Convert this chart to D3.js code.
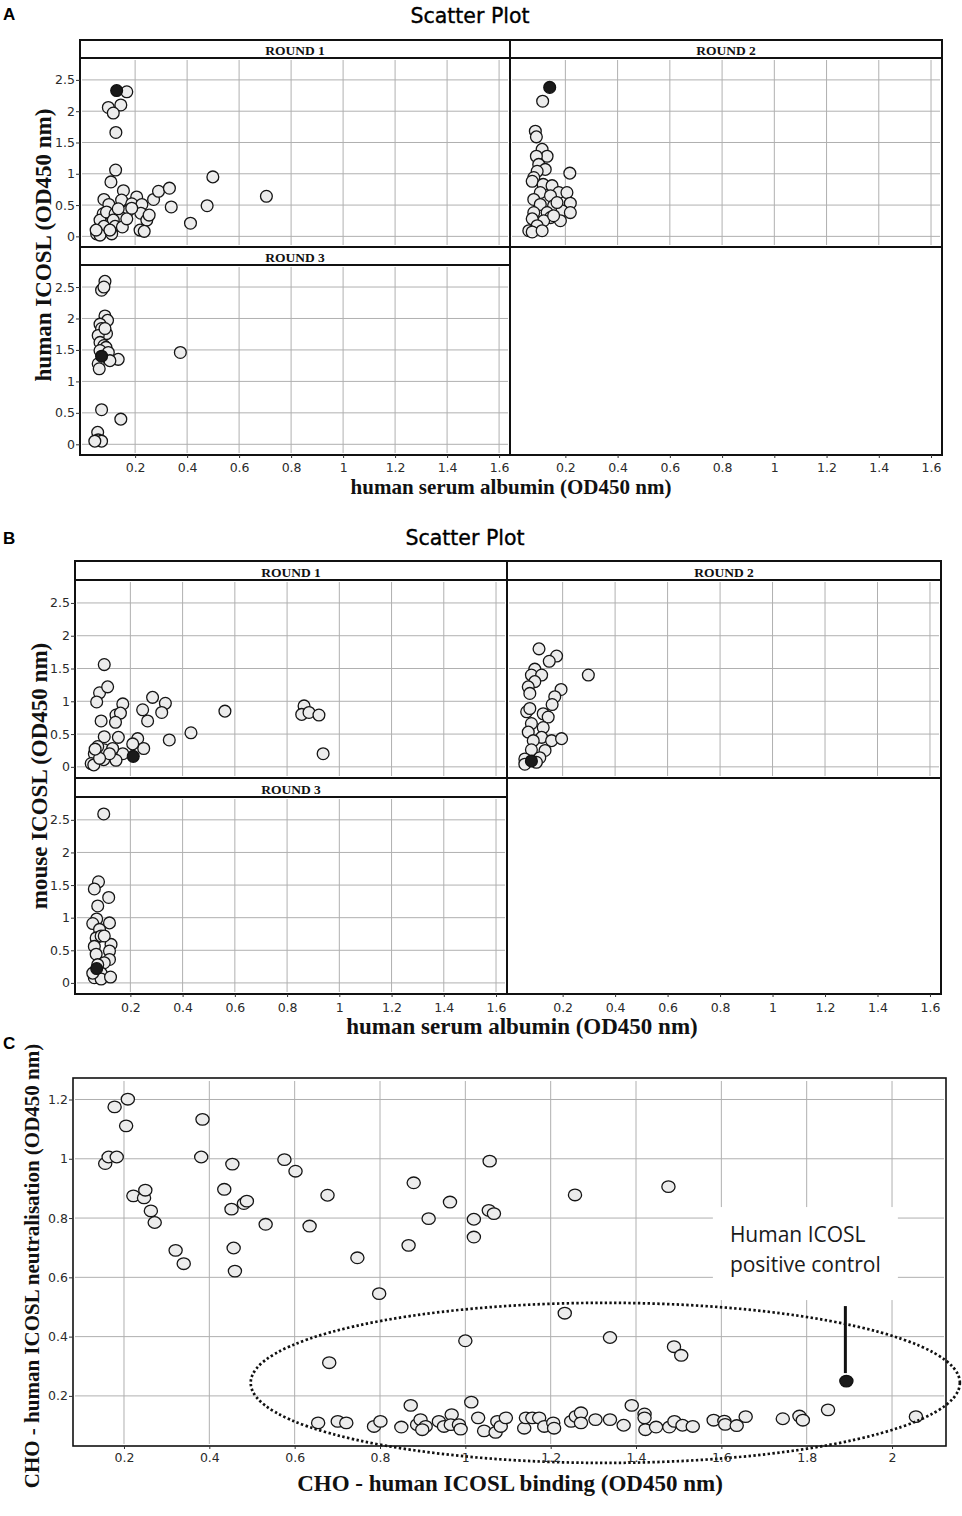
<!DOCTYPE html>
<html><head><meta charset="utf-8">
<script src="https://cdn.jsdelivr.net/npm/d3@7"></script>
<style>body{margin:0;background:#fff}svg{display:block}</style>
</head><body>
<svg id="chart" width="962" height="1516"></svg>
<script>
// ---------------- DATA ----------------
const roundLabels = ["ROUND 1", "ROUND 2", "ROUND 3"];
const xTicksAB = [0.2, 0.4, 0.6, 0.8, 1, 1.2, 1.4, 1.6];
const yTicksAB = [0, 0.5, 1, 1.5, 2, 2.5];
const xTicksC = [0.2, 0.4, 0.6, 0.8, 1, 1.2, 1.4, 1.6, 1.8, 2];
const yTicksC = [0.2, 0.4, 0.6, 0.8, 1, 1.2];

// Panel A: human serum albumin (x) vs human ICOSL (y)
const humanR1 = [[0.168,2.31],[0.097,2.06],[0.145,2.10],[0.116,1.97],[0.126,1.66],[0.125,1.06],[0.107,0.87],[0.155,0.73],[0.206,0.63],[0.148,0.58],[0.08,0.59],[0.099,0.51],[0.187,0.52],[0.226,0.51],[0.271,0.59],[0.29,0.72],[0.332,0.77],[0.339,0.47],[0.499,0.95],[0.477,0.49],[0.413,0.21],[0.705,0.64],[0.174,0.41],[0.222,0.37],[0.245,0.26],[0.254,0.34],[0.219,0.10],[0.235,0.08],[0.077,0.36],[0.065,0.26],[0.09,0.39],[0.123,0.36],[0.142,0.31],[0.116,0.26],[0.08,0.16],[0.123,0.16],[0.151,0.15],[0.052,0.04],[0.065,0.02],[0.11,0.04],[0.168,0.28],[0.187,0.45],[0.103,0.10],[0.05,0.10],[0.135,0.44]];
const humanR2 = [[0.113,2.16],[0.085,1.68],[0.089,1.59],[0.111,1.39],[0.13,1.28],[0.089,1.28],[0.098,1.15],[0.123,1.07],[0.092,1.04],[0.217,1.01],[0.079,0.94],[0.073,0.88],[0.115,0.83],[0.149,0.81],[0.175,0.70],[0.206,0.70],[0.104,0.70],[0.143,0.65],[0.079,0.59],[0.104,0.51],[0.155,0.49],[0.219,0.53],[0.187,0.41],[0.219,0.38],[0.079,0.38],[0.13,0.38],[0.143,0.30],[0.117,0.25],[0.181,0.25],[0.073,0.28],[0.092,0.17],[0.06,0.09],[0.073,0.07],[0.111,0.09],[0.155,0.33],[0.168,0.54]];
const humanR3 = [[0.084,2.59],[0.071,2.45],[0.08,2.50],[0.084,2.04],[0.094,1.97],[0.065,1.91],[0.071,1.84],[0.09,1.76],[0.058,1.73],[0.065,1.62],[0.08,1.57],[0.088,1.54],[0.065,1.49],[0.097,1.46],[0.135,1.35],[0.103,1.33],[0.058,1.28],[0.062,1.20],[0.374,1.46],[0.071,0.55],[0.145,0.40],[0.056,0.19],[0.058,0.07],[0.071,0.05],[0.045,0.05],[0.084,1.84]];
const humanCtrl = [[0.129,2.33],[0.14,2.38],[0.071,1.40]];

// Panel B: human serum albumin (x) vs mouse ICOSL (y)
const mouseR1 = [[0.10,1.56],[0.082,1.13],[0.113,1.22],[0.071,0.99],[0.285,1.06],[0.334,0.97],[0.32,0.83],[0.247,0.87],[0.171,0.96],[0.145,0.79],[0.162,0.82],[0.088,0.70],[0.143,0.68],[0.266,0.70],[0.562,0.85],[0.865,0.93],[0.856,0.80],[0.884,0.83],[0.922,0.79],[0.938,0.20],[0.432,0.52],[0.349,0.41],[0.228,0.43],[0.251,0.28],[0.154,0.45],[0.10,0.46],[0.209,0.35],[0.171,0.20],[0.145,0.10],[0.098,0.11],[0.10,0.26],[0.075,0.31],[0.062,0.20],[0.05,0.05],[0.06,0.03],[0.132,0.28],[0.12,0.20],[0.082,0.13],[0.065,0.27]];
const mouseR2 = [[0.11,1.80],[0.177,1.69],[0.149,1.61],[0.298,1.40],[0.094,1.49],[0.081,1.40],[0.12,1.40],[0.094,1.30],[0.069,1.22],[0.075,1.12],[0.194,1.18],[0.17,1.07],[0.16,0.95],[0.063,0.84],[0.075,0.89],[0.126,0.81],[0.145,0.76],[0.081,0.66],[0.126,0.60],[0.069,0.53],[0.12,0.45],[0.158,0.40],[0.196,0.43],[0.088,0.40],[0.133,0.25],[0.081,0.26],[0.113,0.14],[0.056,0.12],[0.056,0.04],[0.10,0.07]];
const mouseR3 = [[0.098,2.59],[0.078,1.55],[0.062,1.44],[0.117,1.31],[0.075,1.18],[0.071,0.98],[0.056,0.91],[0.12,0.92],[0.082,0.82],[0.069,0.69],[0.088,0.72],[0.126,0.59],[0.062,0.56],[0.12,0.49],[0.069,0.44],[0.12,0.36],[0.10,0.31],[0.075,0.28],[0.088,0.15],[0.062,0.08],[0.088,0.06],[0.124,0.09],[0.056,0.15],[0.10,0.72]];
const mouseCtrl = [[0.211,0.16],[0.081,0.09],[0.071,0.22]];

// Panel C: CHO binding (x) vs CHO neutralisation (y)
const choPoints = [[0.156,0.984],[0.164,1.006],[0.183,1.006],[0.178,1.175],[0.209,1.201],[0.205,1.111],[0.222,0.875],[0.247,0.868],[0.25,0.894],[0.263,0.824],[0.272,0.785],[0.321,0.691],[0.34,0.646],[0.384,1.133],[0.381,1.006],[0.454,0.982],[0.435,0.897],[0.452,0.83],[0.481,0.849],[0.488,0.857],[0.457,0.699],[0.46,0.621],[0.532,0.779],[0.576,0.997],[0.602,0.958],[0.635,0.773],[0.677,0.877],[0.747,0.666],[0.798,0.545],[0.867,0.708],[0.879,0.919],[0.914,0.798],[0.964,0.854],[1.02,0.796],[1.02,0.736],[1.057,0.992],[1.055,0.826],[1.067,0.815],[1.257,0.878],[1.476,0.906],[1.233,0.479],[0.681,0.312],[1.0,0.386],[1.339,0.397],[1.489,0.366],[1.506,0.337],[0.872,0.168],[1.014,0.179],[1.39,0.168],
[0.655,0.109],[0.701,0.114],[0.721,0.109],[0.786,0.097],[0.801,0.114],[0.85,0.095],[0.887,0.103],[0.895,0.12],[0.907,0.097],[0.899,0.086],[0.938,0.114],[0.95,0.097],[0.968,0.137],[0.966,0.103],[0.985,0.103],[0.989,0.088],[1.03,0.126],[1.044,0.082],[1.071,0.077],[1.075,0.114],[1.083,0.097],[1.095,0.126],[1.138,0.091],[1.142,0.126],[1.157,0.126],[1.173,0.126],[1.185,0.097],[1.206,0.109],[1.208,0.091],[1.248,0.114],[1.259,0.131],[1.271,0.143],[1.271,0.109],[1.305,0.12],[1.339,0.12],[1.371,0.101],[1.42,0.139],[1.42,0.126],[1.422,0.086],[1.447,0.095],[1.478,0.095],[1.49,0.114],[1.509,0.101],[1.533,0.097],[1.582,0.118],[1.607,0.115],[1.609,0.104],[1.636,0.1],[1.657,0.13],[1.744,0.123],[1.783,0.132],[1.791,0.118],[1.85,0.153],[2.056,0.13]];
const choCtrl = [[1.893,0.250]];
const choEllipse = {cx: 1.328, cy: 0.244, rx: 0.831, ry: 0.27};   // dotted region, data units
const annotLines = ["Human ICOSL", "positive control"];

// ---------------- DRAWING ----------------
const svg = d3.select("#chart");
const serif = "'Liberation Serif','Times New Roman',serif";
const sans = "'DejaVu Sans',Verdana,sans-serif";
const xDomAB = [-0.012, 1.642];
const yDomAB = [-0.17, 2.85];
const fmt = d => String(d);

function styleAxis(g) {
  g.select(".domain").remove();
  g.selectAll(".tick line").attr("stroke", "#333").attr("stroke-width", 1);
  g.selectAll(".tick text").attr("fill", "#2a2a2a").style("font-family", sans).style("font-size", "12.5px");
}

function facetPanel(cfg) {
  const g = svg.append("g");
  const cols = [[cfg.left, cfg.midX], [cfg.midX, cfg.right]];
  const rows = [[cfg.top, cfg.rowY], [cfg.rowY, cfg.bottom]];
  const cells = [{c:0, r:0, d: cfg.series[0], ctrl: cfg.ctrl[0]},
                 {c:1, r:0, d: cfg.series[1], ctrl: cfg.ctrl[1]},
                 {c:0, r:1, d: cfg.series[2], ctrl: cfg.ctrl[2]}];
  const xScales = cols.map(([a,b]) => d3.scaleLinear().domain(xDomAB).range([a,b]));
  const yScales = rows.map(([a,b]) => d3.scaleLinear().domain(yDomAB).range([b, a + cfg.stripH]));

  cells.forEach((cell, i) => {
    const xs = xScales[cell.c], ys = yScales[cell.r];
    const [x0, x1] = cols[cell.c], [y0, y1] = rows[cell.r];
    const py0 = y0 + cfg.stripH;
    const cg = g.append("g");
    cg.selectAll(".gx").data(xTicksAB).join("line")
      .attr("x1", d => xs(d)).attr("x2", d => xs(d)).attr("y1", py0 + 2).attr("y2", y1 - 2)
      .attr("stroke", "#b0b0b0").attr("stroke-width", 1);
    cg.selectAll(".gy").data(yTicksAB).join("line")
      .attr("x1", x0 + 2).attr("x2", x1 - 2).attr("y1", d => ys(d)).attr("y2", d => ys(d))
      .attr("stroke", "#b0b0b0").attr("stroke-width", 1);
    cg.selectAll(".pt").data(cell.d).join("circle")
      .attr("cx", d => xs(d[0])).attr("cy", d => ys(d[1])).attr("r", 5.9)
      .attr("fill", "#ececec").attr("stroke", "#151515").attr("stroke-width", 1.3);
    cg.selectAll(".ctl").data([cell.ctrl]).join("circle")
      .attr("cx", d => xs(d[0])).attr("cy", d => ys(d[1])).attr("r", 5.9)
      .attr("fill", "#1a1a1a").attr("stroke", "#111").attr("stroke-width", 1.3);
    cg.append("rect").attr("x", x0).attr("y", y0).attr("width", x1 - x0).attr("height", cfg.stripH)
      .attr("fill", "#fff").attr("stroke", "#111").attr("stroke-width", 2);
    cg.append("text").attr("x", (x0 + x1) / 2).attr("y", y0 + cfg.stripH - 3.5)
      .attr("text-anchor", "middle").style("font-family", serif).style("font-weight", "bold")
      .style("font-size", "13.5px").attr("fill", "#111").text(roundLabels[i]);
    cg.append("rect").attr("x", x0).attr("y", py0).attr("width", x1 - x0).attr("height", y1 - py0)
      .attr("fill", "none").attr("stroke", "#111").attr("stroke-width", 2);
  });
  g.append("rect").attr("x", cfg.midX).attr("y", cfg.rowY).attr("width", cfg.right - cfg.midX)
    .attr("height", cfg.bottom - cfg.rowY).attr("fill", "none").attr("stroke", "#111").attr("stroke-width", 2);

  xScales.forEach(xs => {
    g.append("g").attr("transform", `translate(0,${cfg.bottom})`)
      .call(d3.axisBottom(xs).tickValues(xTicksAB).tickFormat(fmt).tickSize(3).tickPadding(cfg.xPad))
      .call(styleAxis);
  });
  yScales.forEach(ys => {
    g.append("g").attr("transform", `translate(${cfg.left},0)`)
      .call(d3.axisLeft(ys).tickValues(yTicksAB).tickFormat(fmt).tickSize(4).tickPadding(1))
      .call(styleAxis);
  });
  svg.append("text").attr("x", 3).attr("y", cfg.letterY).style("font-family", "'Liberation Sans',Arial,sans-serif")
    .style("font-weight", "bold").style("font-size", "17px").text(cfg.letter);
  svg.append("text").attr("x", cfg.titleX).attr("y", cfg.titleY).attr("text-anchor", "middle")
    .style("font-family", sans).style("font-size", "20.5px").attr("fill", "#000")
    .attr("stroke", "#000").attr("stroke-width", 0.35).text("Scatter Plot");
  svg.append("text").attr("x", cfg.xTitleX).attr("y", cfg.xTitleY).attr("text-anchor", "middle")
    .style("font-family", serif).style("font-weight", "bold").style("font-size", cfg.xTitleSize + "px")
    .attr("fill", "#111").text("human serum albumin (OD450 nm)");
  svg.append("text").attr("transform", `translate(${cfg.yTitleX},${cfg.yTitleY}) rotate(-90)`)
    .attr("text-anchor", "middle").style("font-family", serif).style("font-weight", "bold")
    .style("font-size", cfg.yTitleSize + "px").attr("fill", "#111").text(cfg.yTitle);
}

facetPanel({
  left: 80, right: 942, midX: 510, top: 40, rowY: 247, bottom: 455, stripH: 18,
  series: [humanR1, humanR2, humanR3], ctrl: humanCtrl, xPad: 5,
  letter: "A", letterY: 20, titleX: 470, titleY: 23,
  xTitleX: 511, xTitleY: 494, xTitleSize: 21,
  yTitle: "human ICOSL (OD450 nm)", yTitleX: 51, yTitleY: 245, yTitleSize: 23
});
facetPanel({
  left: 75, right: 941, midX: 507, top: 561, rowY: 778, bottom: 994, stripH: 19,
  series: [mouseR1, mouseR2, mouseR3], ctrl: mouseCtrl, xPad: 6,
  letter: "B", letterY: 544, titleX: 465, titleY: 545,
  xTitleX: 522, xTitleY: 1034, xTitleSize: 23,
  yTitle: "mouse ICOSL (OD450 nm)", yTitleX: 47, yTitleY: 776, yTitleSize: 23
});

// ---------------- PANEL C ----------------
(function () {
  const L = 73, R = 946, T = 1078, B = 1446;
  const xs = d3.scaleLinear().domain([0.0805, 2.1265]).range([L, R]);
  const ys = d3.scaleLinear().domain([0.031, 1.2725]).range([B, T]);
  const g = svg.append("g");
  g.selectAll(".gx").data(xTicksC).join("line")
    .attr("x1", d => xs(d)).attr("x2", d => xs(d)).attr("y1", T + 3).attr("y2", B - 2)
    .attr("stroke", "#b0b0b0").attr("stroke-width", 1);
  g.selectAll(".gy").data(yTicksC).join("line")
    .attr("x1", L + 2).attr("x2", R - 2).attr("y1", d => ys(d)).attr("y2", d => ys(d))
    .attr("stroke", "#b0b0b0").attr("stroke-width", 1);
  const ax = xs(1.62), ay = ys(0.719);
  g.append("rect").attr("x", ax - 17).attr("y", ay - 35).attr("width", 185).attr("height", 93).attr("fill", "#fff");
  g.selectAll(".ann").data(annotLines).join("text")
    .attr("x", ax).attr("y", (d, i) => ay + i * 30)
    .style("font-family", "'Open Sans',sans-serif").style("font-size", "21px").attr("fill", "#1a1a1a")
    .text(d => d);
  g.append("rect").attr("x", L).attr("y", T).attr("width", R - L).attr("height", B - T)
    .attr("fill", "none").attr("stroke", "#111").attr("stroke-width", 1.6);
  g.selectAll(".pt").data(choPoints).join("ellipse")
    .attr("cx", d => xs(d[0])).attr("cy", d => ys(d[1])).attr("rx", 6.6).attr("ry", 5.8)
    .attr("fill", "#ececec").attr("stroke", "#151515").attr("stroke-width", 1.3);
  g.selectAll(".ctl").data(choCtrl).join("ellipse")
    .attr("cx", d => xs(d[0])).attr("cy", d => ys(d[1])).attr("rx", 6.6).attr("ry", 5.8)
    .attr("fill", "#1a1a1a").attr("stroke", "#111").attr("stroke-width", 1.3);
  g.selectAll(".ptr").data(choCtrl).join("line")
    .attr("x1", d => xs(d[0]) - 1).attr("x2", d => xs(d[0]) - 1)
    .attr("y1", d => ys(d[1]) - 75).attr("y2", d => ys(d[1]) - 8)
    .attr("stroke", "#111").attr("stroke-width", 3);
  g.append("ellipse")
    .attr("cx", xs(choEllipse.cx)).attr("cy", ys(choEllipse.cy))
    .attr("rx", xs(choEllipse.cx + choEllipse.rx) - xs(choEllipse.cx))
    .attr("ry", ys(choEllipse.cy - choEllipse.ry) - ys(choEllipse.cy))
    .attr("fill", "none").attr("stroke", "#111").attr("stroke-width", 2.7).attr("stroke-dasharray", "2.4,2.4");
  g.append("g").attr("transform", `translate(0,${B})`)
    .call(d3.axisBottom(xs).tickValues(xTicksC).tickFormat(fmt).tickSize(3).tickPadding(4))
    .call(styleAxis);
  g.append("g").attr("transform", `translate(${L},0)`)
    .call(d3.axisLeft(ys).tickValues(yTicksC).tickFormat(fmt).tickSize(4).tickPadding(1))
    .call(styleAxis);
  svg.append("text").attr("x", 3).attr("y", 1049).style("font-family", "'Liberation Sans',Arial,sans-serif")
    .style("font-weight", "bold").style("font-size", "17px").text("C");
  svg.append("text").attr("x", 510).attr("y", 1491).attr("text-anchor", "middle")
    .style("font-family", serif).style("font-weight", "bold").style("font-size", "23px").attr("fill", "#111")
    .text("CHO - human ICOSL binding (OD450 nm)");
  svg.append("text").attr("transform", "translate(39,1266) rotate(-90)").attr("text-anchor", "middle")
    .style("font-family", serif).style("font-weight", "bold").style("font-size", "21px").attr("fill", "#111")
    .text("CHO - human ICOSL neutralisation (OD450 nm)");
})();
</script>
</body></html>
